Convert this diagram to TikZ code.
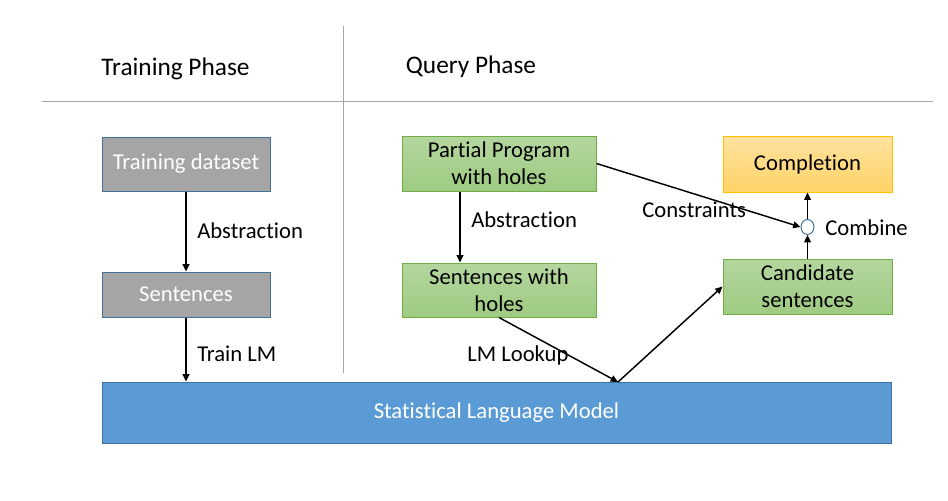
\documentclass[tikz,border=0pt]{standalone}
\usepackage{fontspec}
\setmainfont{Carlito}[Ligatures=NoCommon]
\usetikzlibrary{arrows.meta,shapes.geometric}
\definecolor{boxline}{HTML}{41719C}
\definecolor{slmfill}{HTML}{5B9BD5}
\definecolor{grayfill}{HTML}{A5A5A5}
\definecolor{greenline}{HTML}{70AD47}
\definecolor{greentop}{HTML}{B4D69F}
\definecolor{greenbot}{HTML}{9ECB81}
\definecolor{yelline}{HTML}{FFC000}
\definecolor{yeltop}{HTML}{FFE2A0}
\definecolor{yelbot}{HTML}{FFD366}
\definecolor{sepline}{HTML}{A6A6A6}
\begin{document}
\begin{tikzpicture}[x=0.75pt,y=-0.75pt,
  font=\fontsize{17}{20.5}\selectfont,
  head/.style={font=\fontsize{19}{22}\selectfont},
  graybox/.style={draw=boxline,fill=grayfill,text=white,line width=0.75pt,minimum width=126pt},
  greenbox/.style={draw=greenline,top color=greentop,bottom color=greenbot,line width=0.75pt,minimum width=145.5pt,align=center},
  yelbox/.style={draw=yelline,top color=yeltop,bottom color=yelbot,line width=0.75pt,minimum width=126.75pt},
  arr/.style={-{Triangle[length=5.5pt,width=5pt]},line width=1.1pt}]
\tikzstyle{every node}+=[inner sep=0pt]
\useasboundingbox (0,0) rectangle (948,500);
% separators
\draw [sepline,line width=0.75pt] (42,101) -- (933,101);
\draw [sepline,line width=0.75pt] (343,26) -- (343,373);
\node [head] (trainhead) at (175.5,69) {Training Phase};
\node [head] (queryhead) at (471,67) {Query Phase};
% training phase
\node [graybox,minimum height=40.5pt] (dataset) at (186,164) {Training dataset};
\node [graybox,minimum height=33.75pt] (sent) at (186,294.5) {Sentences};
\node [draw=boxline,fill=slmfill,text=white,line width=0.75pt,minimum width=591.75pt,minimum height=45.75pt] (slm) at (496.5,412.5) {Statistical Language Model};
\draw [arr] (dataset.south) -- (sent.north);
\node [anchor=west] (abstr1) at (197,231) {Abstraction};
\draw [arr] (sent.south) -- (sent.south |- slm.north);
\node [anchor=west] (trainlm) at (197,354) {Train LM};
% query phase
\node [greenbox,minimum height=41.25pt] (partial) at (499,163.5) {Partial Program\\with holes};
\node [greenbox,minimum height=40.5pt] (holes) at (499,290) {Sentences with\\holes};
\node [yelbox,minimum height=42pt] (compl) at (807.5,164) {Completion};
\node [draw=greenline,top color=greentop,bottom color=greenbot,line width=0.75pt,minimum width=126.75pt,minimum height=41.25pt,align=center] (cand) at (807.5,286.5) {Candidate\\sentences};
\node [ellipse,draw=boxline,fill=white,line width=0.75pt,minimum width=9.75pt,minimum height=11.25pt] (comb) at (807.5,227) {};
\coordinate (abstrq) at (460,0);
\coordinate (lookup) at (618,382);
\draw [arr] (partial.south -| abstrq) -- (holes.north -| abstrq);
\node [anchor=west] (abstr2) at (471,220) {Abstraction};
\draw [arr] (partial.east) -- (comb.west);
\node [anchor=west] (constr) at (642,210) {Constraints};
\draw [arr] (holes.south) -- (lookup);
\node [anchor=west] (lmlookup) at (467,355) {LM Lookup};
\draw [arr] (lookup) -- (cand.west);
\draw [arr] (cand.north) -- (comb.south);
\draw [arr] (comb.north) -- (compl.south);
\node [anchor=west] (combine) at (825,228) {Combine};
\end{tikzpicture}
\end{document}
